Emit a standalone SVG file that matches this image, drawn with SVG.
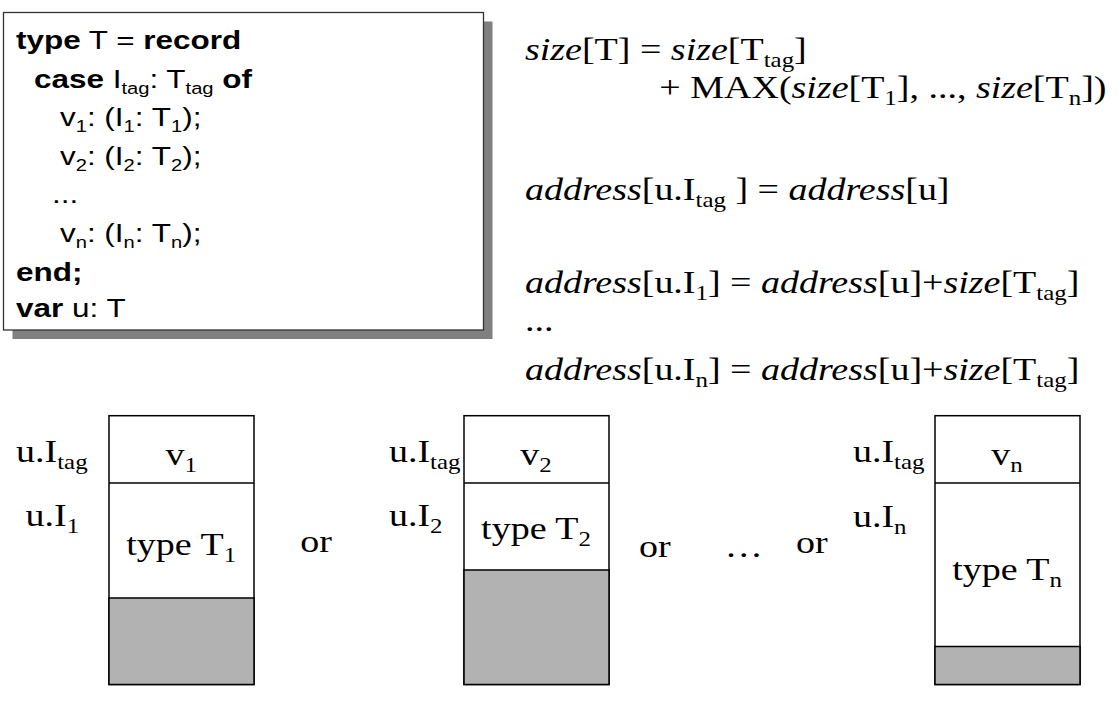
<svg xmlns="http://www.w3.org/2000/svg" width="1119" height="707" viewBox="0 0 1119 707">
<style>
.code{font-family:"Liberation Sans",Arial,sans-serif;font-size:26.5px;fill:#000}
.b{font-weight:bold}
.cs{font-size:17px}
.tm{font-family:"Liberation Serif","Times New Roman",serif;font-size:32px;fill:#000}
.i{font-style:italic}
.ts{font-size:21px}
.mid{text-anchor:middle}
.box{fill:#fff;stroke:#000;stroke-width:1.5}
.gray{fill:#b2b2b2;stroke:#000;stroke-width:1.5}
</style>
<rect width="1119" height="707" fill="#fff"/>
<g id="code">
<rect x="12.5" y="21.5" width="480" height="317.5" fill="#808080"/>
<rect x="3.5" y="12.5" width="480" height="317.5" fill="#fff" stroke="#333" stroke-width="1.3"/>
<text class="code" transform="scale(1.187 1)" x="13.5" y="49"><tspan class="b">type</tspan> T = <tspan class="b">record</tspan></text>
<text class="code" transform="scale(1.187 1)" x="28.6" y="88"><tspan class="b">case</tspan> I<tspan class="cs" dy="6">tag</tspan><tspan dy="-6">: T</tspan><tspan class="cs" dy="6">tag</tspan><tspan dy="-6"> </tspan><tspan class="b">of</tspan></text>
<text class="code" transform="scale(1.187 1)" x="50.5" y="126.5">v<tspan class="cs" dy="6">1</tspan><tspan dy="-6">: (I</tspan><tspan class="cs" dy="6">1</tspan><tspan dy="-6">: T</tspan><tspan class="cs" dy="6">1</tspan><tspan dy="-6">);</tspan></text>
<text class="code" transform="scale(1.187 1)" x="50.5" y="165.5">v<tspan class="cs" dy="6">2</tspan><tspan dy="-6">: (I</tspan><tspan class="cs" dy="6">2</tspan><tspan dy="-6">: T</tspan><tspan class="cs" dy="6">2</tspan><tspan dy="-6">);</tspan></text>
<text class="code" transform="scale(1.187 1)" x="43.8" y="203">...</text>
<text class="code" transform="scale(1.187 1)" x="50.5" y="242.5">v<tspan class="cs" dy="6">n</tspan><tspan dy="-6">: (I</tspan><tspan class="cs" dy="6">n</tspan><tspan dy="-6">: T</tspan><tspan class="cs" dy="6">n</tspan><tspan dy="-6">);</tspan></text>
<text class="code b" transform="scale(1.187 1)" x="13.5" y="281">end;</text>
<text class="code" transform="scale(1.187 1)" x="13.5" y="317.5"><tspan class="b">var</tspan> u: T</text>
</g>
<g id="formulas">
<text class="tm" transform="scale(1.187 1)" x="442.3" y="60"><tspan class="i">size</tspan>[T] = <tspan class="i">size</tspan>[T<tspan class="ts" dy="7">tag</tspan><tspan dy="-7">]</tspan></text>
<text class="tm" transform="scale(1.187 1)" x="555.5" y="98.5">+ MAX(<tspan class="i">size</tspan>[T<tspan class="ts" dy="7">1</tspan><tspan dy="-7">], ..., </tspan><tspan class="i">size</tspan>[T<tspan class="ts" dy="7">n</tspan><tspan dy="-7">])</tspan></text>
<text class="tm" transform="scale(1.187 1)" x="442.3" y="200"><tspan class="i">address</tspan>[u.I<tspan class="ts" dy="7">tag</tspan><tspan dy="-7"> ] = </tspan><tspan class="i">address</tspan>[u]</text>
<text class="tm" transform="scale(1.187 1)" x="442.3" y="293"><tspan class="i">address</tspan>[u.I<tspan class="ts" dy="7">1</tspan><tspan dy="-7">] = </tspan><tspan class="i">address</tspan>[u]+<tspan class="i">size</tspan>[T<tspan class="ts" dy="7">tag</tspan><tspan dy="-7">]</tspan></text>
<text class="tm" transform="scale(1.187 1)" x="442.3" y="331">...</text>
<text class="tm" transform="scale(1.187 1)" x="442.3" y="380"><tspan class="i">address</tspan>[u.I<tspan class="ts" dy="7">n</tspan><tspan dy="-7">] = </tspan><tspan class="i">address</tspan>[u]+<tspan class="i">size</tspan>[T<tspan class="ts" dy="7">tag</tspan><tspan dy="-7">]</tspan></text>
</g>
<g id="layout1">
<rect class="box" x="109" y="415.7" width="145" height="268.8"/>
<line x1="109" y1="483" x2="254" y2="483" stroke="#000" stroke-width="1.5"/>
<rect class="gray" x="109" y="598" width="145" height="86.5"/>
<text class="tm" transform="scale(1.187 1)" x="13.5" y="462">u.I<tspan class="ts" dy="7">tag</tspan></text>
<text class="tm mid" transform="scale(1.187 1)" x="152.7" y="465">v<tspan class="ts" dy="7">1</tspan></text>
<text class="tm" transform="scale(1.187 1)" x="21.5" y="526">u.I<tspan class="ts" dy="7">1</tspan></text>
<text class="tm mid" transform="scale(1.187 1)" x="152.7" y="555">type T<tspan class="ts" dy="7">1</tspan></text>
</g>
<g id="layout2">
<rect class="box" x="464" y="415.7" width="145" height="268.8"/>
<line x1="464" y1="483" x2="609" y2="483" stroke="#000" stroke-width="1.5"/>
<rect class="gray" x="464" y="570" width="145" height="114.5"/>
<text class="tm" transform="scale(1.187 1)" x="327.7" y="462">u.I<tspan class="ts" dy="7">tag</tspan></text>
<text class="tm mid" transform="scale(1.187 1)" x="451.6" y="465">v<tspan class="ts" dy="7">2</tspan></text>
<text class="tm" transform="scale(1.187 1)" x="327.7" y="526">u.I<tspan class="ts" dy="7">2</tspan></text>
<text class="tm mid" transform="scale(1.187 1)" x="451.6" y="539">type T<tspan class="ts" dy="7">2</tspan></text>
</g>
<g id="layoutn">
<rect class="box" x="935" y="415.7" width="145" height="268.8"/>
<line x1="935" y1="483" x2="1080" y2="483" stroke="#000" stroke-width="1.5"/>
<rect class="gray" x="935" y="646.5" width="145" height="38"/>
<text class="tm" transform="scale(1.187 1)" x="718.6" y="462">u.I<tspan class="ts" dy="7">tag</tspan></text>
<text class="tm mid" transform="scale(1.187 1)" x="848.4" y="465">v<tspan class="ts" dy="7">n</tspan></text>
<text class="tm" transform="scale(1.187 1)" x="718.6" y="527">u.I<tspan class="ts" dy="7">n</tspan></text>
<text class="tm mid" transform="scale(1.187 1)" x="848.4" y="580">type T<tspan class="ts" dy="7">n</tspan></text>
</g>
<g id="separators">
<text class="tm" transform="scale(1.187 1)" x="253" y="552">or</text>
<text class="tm" transform="scale(1.187 1)" x="538.3" y="557">or</text>
<text class="tm" transform="scale(1.187 1)" x="610.5" y="557">…</text>
<text class="tm" transform="scale(1.187 1)" x="670.6" y="553">or</text>
</g>
</svg>
